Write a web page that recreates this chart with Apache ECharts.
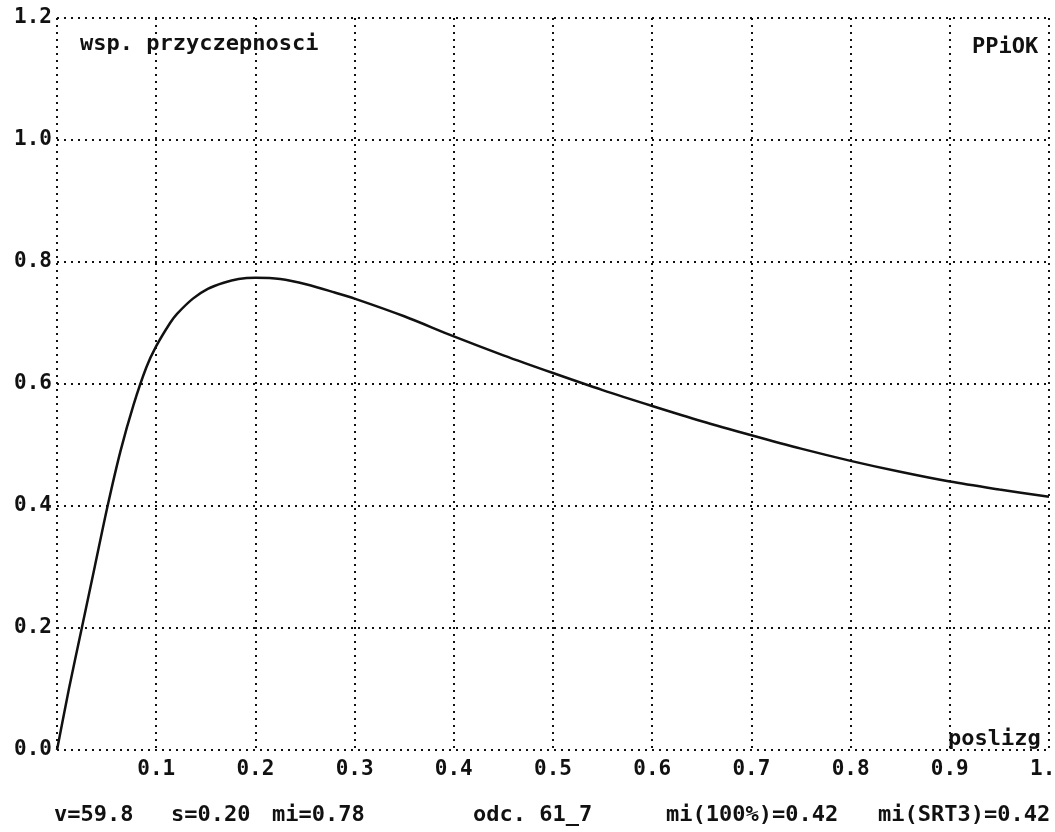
<!DOCTYPE html>
<html lang="pl">
<head>
    <meta charset="UTF-8">
    <title>wsp. przyczepnosci</title>
    <style>
        html, body { margin: 0; padding: 0; background: #fff; }
    </style>
</head>
<body>

<div id="main" style="width: 1055px; height: 832px;"></div>

<script src="https://cdn.jsdelivr.net/npm/echarts@6/dist/echarts.min.js"></script>
<script>
    // poslizg (slip) -> wsp. przyczepnosci (adhesion coefficient)
    var slip = [0, 0.012, 0.025, 0.038, 0.051, 0.064, 0.077, 0.09, 0.1, 0.114, 0.121, 0.137, 0.152,
        0.168, 0.183, 0.2, 0.225, 0.252, 0.28, 0.3, 0.35, 0.4, 0.45, 0.5, 0.55, 0.6,
        0.65, 0.7, 0.75, 0.8, 0.85, 0.9, 0.95, 1.0];
    var mu = [0, 0.1, 0.2, 0.3, 0.4, 0.49, 0.565, 0.627, 0.662, 0.7, 0.715, 0.74, 0.756,
        0.766, 0.772, 0.774, 0.772, 0.763, 0.75, 0.74, 0.711, 0.678, 0.647, 0.618, 0.59, 0.564,
        0.539, 0.516, 0.494, 0.474, 0.456, 0.44, 0.427, 0.415];

    var xTicks = [0.1, 0.2, 0.3, 0.4, 0.5, 0.6, 0.7, 0.8, 0.9, 1.0];
    var yTicks = [0.0, 0.2, 0.4, 0.6, 0.8, 1.0, 1.2];

    var footer = [
        { text: 'v=59.8', left: 54 },
        { text: 's=0.20', left: 171 },
        { text: 'mi=0.78', left: 272 },
        { text: 'odc. 61_7', left: 473 },
        { text: 'mi(100%)=0.42', left: 666 },
        { text: 'mi(SRT3)=0.42', left: 878 }
    ];

    var font = 'DejaVu Sans Mono';
    var dotted = { color: '#111', type: [2, 5], width: 2 };

    var points = [];
    for (var i = 0; i < slip.length; i++) {
        points.push([slip[i], mu[i]]);
    }

    var graphics = [
        { type: 'text', left: 80, top: 33, style: { text: 'wsp. przyczepnosci', font: 'bold 22px ' + font, fill: '#111' } },
        { type: 'text', left: 972, top: 36, style: { text: 'PPiOK', font: 'bold 22px ' + font, fill: '#111' } },
        { type: 'text', left: 948, top: 728, style: { text: 'poslizg', font: 'bold 22px ' + font, fill: '#111' } }
    ];
    footer.forEach(function (f) {
        graphics.push({ type: 'text', left: f.left, top: 804, style: { text: f.text, font: 'bold 22px ' + font, fill: '#111' } });
    });

    var myChart = echarts.init(document.getElementById('main'));

    var option = {
        backgroundColor: '#fff',
        animation: false,
        grid: { left: 57, right: 6, top: 18, bottom: 82, outerBoundsMode: 'none', containLabel: false },
        xAxis: {
            type: 'value',
            min: 0,
            max: 1,
            interval: 0.1,
            axisLine: { show: false },
            axisTick: { show: false },
            axisLabel: {
                margin: 9,
                color: '#111',
                fontFamily: font,
                fontWeight: 'bold',
                fontSize: 21,
                formatter: function (v) {
                    var hit = xTicks.filter(function (t) { return Math.abs(t - v) < 1e-6; });
                    return hit.length ? hit[0].toFixed(1) : '';
                }
            },
            splitLine: { show: true, lineStyle: dotted }
        },
        yAxis: {
            type: 'value',
            min: 0,
            max: 1.2,
            interval: 0.2,
            axisLine: { show: false },
            axisTick: { show: false },
            axisLabel: {
                margin: 5,
                color: '#111',
                fontFamily: font,
                fontWeight: 'bold',
                fontSize: 21,
                formatter: function (v) {
                    var hit = yTicks.filter(function (t) { return Math.abs(t - v) < 1e-6; });
                    return hit.length ? hit[0].toFixed(1) : '';
                }
            },
            splitLine: { show: true, lineStyle: dotted }
        },
        graphic: graphics,
        series: [
            {
                type: 'line',
                data: points,
                showSymbol: false,
                smooth: 0.3,
                lineStyle: { color: '#111', width: 2.5 }
            }
        ]
    };
    myChart.setOption(option);
</script>
</body>
</html>
